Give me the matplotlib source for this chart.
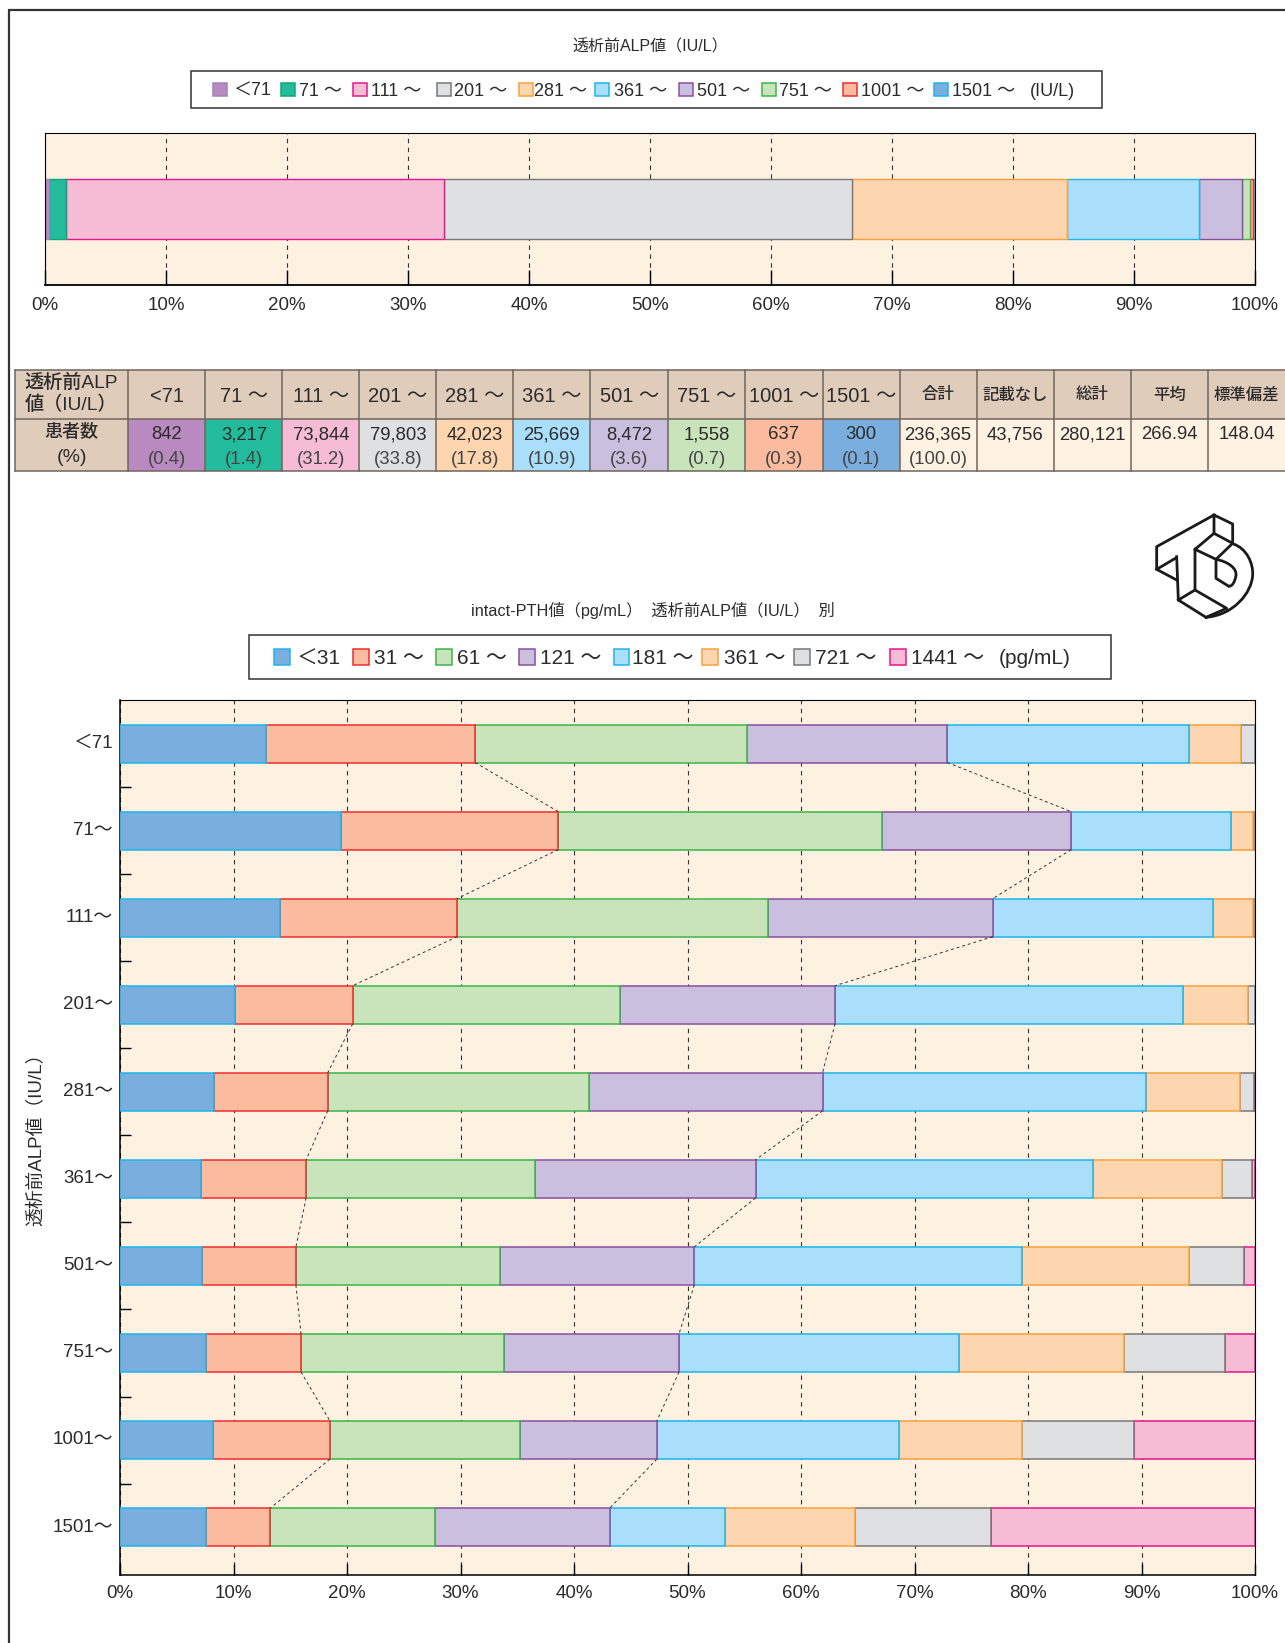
import matplotlib
matplotlib.use('Agg')
import matplotlib.pyplot as plt
from matplotlib.patches import Rectangle, PathPatch
from matplotlib.path import Path
from matplotlib.transforms import ScaledTranslation
import numpy as np

plt.rcParams['font.family'] = ['Liberation Sans', 'Noto Sans CJK JP', 'DejaVu Sans']

W, H = 1285, 1643
txt = '#2b2b2b'
bg = '#fdf1e2'

alp_labels = ['＜71', '71 ～', '111 ～', '201 ～', '281 ～', '361 ～', '501 ～', '751 ～', '1001 ～', '1501 ～']
alp_head = ['<71', '71 ～', '111 ～', '201 ～', '281 ～', '361 ～', '501 ～', '751 ～', '1001 ～', '1501 ～',
            '合計', '記載なし', '総計', '平均', '標準偏差']
alp_n = [842, 3217, 73844, 79803, 42023, 25669, 8472, 1558, 637, 300]
alp_counts = ['842', '3,217', '73,844', '79,803', '42,023', '25,669', '8,472', '1,558', '637', '300',
              '236,365', '43,756', '280,121', '266.94', '148.04']
alp_pct = ['(0.4)', '(1.4)', '(31.2)', '(33.8)', '(17.8)', '(10.9)', '(3.6)', '(0.7)', '(0.3)', '(0.1)',
           '(100.0)', '', '', '', '']
alp_fill = ['#b98abf', '#22bb9b', '#f6bcd6', '#dfe0e2', '#fdd5ae', '#aadffb', '#cbbfe0', '#c9e4bb', '#fabb9e', '#7aaede']
alp_edge = ['#9a86bd', '#0fa878', '#e8168c', '#777777', '#f7a13c', '#1db5ea', '#8a4f9e', '#3cb54a', '#ee2e2e', '#1db5ea']

pth_labels = ['＜31', '31 ～', '61 ～', '121 ～', '181 ～', '361 ～', '721 ～', '1441 ～']
pth_fill = ['#7aaede', '#fabb9e', '#c9e4bb', '#cbbfe0', '#aadffb', '#fdd5ae', '#dfe0e2', '#f6bcd6']
pth_edge = ['#1db5ea', '#ee2e2e', '#3cb54a', '#8a4f9e', '#1db5ea', '#f7a13c', '#777777', '#e8168c']
row_labels = ['＜71', '71～', '111～', '201～', '281～', '361～', '501～', '751～', '1001～', '1501～']
# cumulative boundaries of each row, percent
row_cum = [
    [12.9, 31.3, 55.2, 72.9, 94.2, 98.8, 100.0, 100.0],
    [19.45, 38.6, 67.1, 83.8, 97.9, 99.8, 100.0, 100.0],
    [14.1, 29.7, 57.1, 76.9, 96.3, 99.8, 100.0, 100.0],
    [10.1, 20.5, 44.05, 63.0, 93.7, 99.35, 100.0, 100.0],
    [8.3, 18.3, 41.3, 61.9, 90.4, 98.7, 99.9, 100.0],
    [7.15, 16.4, 36.6, 56.0, 85.7, 97.05, 99.7, 100.0],
    [7.25, 15.5, 33.5, 50.6, 79.45, 94.2, 99.0, 100.0],
    [7.55, 15.95, 33.85, 49.25, 73.9, 88.5, 97.4, 100.0],
    [8.2, 18.5, 35.2, 47.3, 68.6, 79.5, 89.3, 100.0],
    [7.55, 13.25, 27.75, 43.15, 53.3, 64.8, 76.7, 100.0],
]
dash_a = [row[1] for row in row_cum]
dash_b = [row[3] for row in row_cum]
pct_ticks = list(range(0, 101, 10))

fig = plt.figure(figsize=(W / 100, H / 100), dpi=100, facecolor='white')


def px_axes(x0, y0, x1, y1, **kw):
    return fig.add_axes([x0 / W, 1 - y1 / H, (x1 - x0) / W, (y1 - y0) / H], **kw)


# page-level layer in pixel coordinates
page = px_axes(0, 0, W, H)
page.set_xlim(0, W)
page.set_ylim(H, 0)
page.axis('off')
page.plot([8.5, 8.5], [9.5, H], color='#333333', lw=1.6, solid_capstyle='butt')
page.plot([8, W], [9.5, 9.5], color='#333333', lw=1.6, solid_capstyle='butt')


def legend_box(box, swatch_x, text_x, labels, fills, edges, unit, unit_x, fs, sw, sh):
    x0, y0, x1, y1 = box
    page.add_patch(Rectangle((x0, y0), x1 - x0, y1 - y0, fc='white', ec='#333333', lw=1.1))
    cy = (y0 + y1) / 2
    base = cy + fs * 0.5
    for sx, tx, lab, f, e in zip(swatch_x, text_x, labels, fills, edges):
        page.add_patch(Rectangle((sx, cy - sh / 2), sw, sh, fc=f, ec=e, lw=1.1))
        page.text(tx, base, lab, fontsize=fs, ha='left', va='baseline', color=txt)
    page.text(unit_x, base, unit, fontsize=fs, ha='left', va='baseline', color=txt)


# top chart
page.text(650, 47, '透析前ALP値（IU/L）', fontsize=11.5, ha='center', va='center', color=txt)
legend_box((191, 71, 1102, 108),
           [213, 281, 353, 437, 519, 595, 679, 762, 843, 934],
           [233, 299, 371, 454, 534, 614, 697, 779, 861, 952],
           alp_labels, alp_fill, alp_edge, '(IU/L)', 1030, 13, 14, 13)

ax = px_axes(45, 133, 1255, 285)
ax.set_facecolor(bg)
ax.set_xlim(0, 100)
ax.set_ylim(-1.267, 1.267)
ax.set_axisbelow(True)
ax.grid(axis='x', color='#333333', ls=(0, (4, 4)), lw=0.8)
alp_share = 100 * np.array(alp_n) / sum(alp_n)
starts = np.concatenate(([0], np.cumsum(alp_share)[:-1]))
# drawn back to front: each segment's right edge sits over the next one
for v, s0, f, e in list(zip(alp_share, starts, alp_fill, alp_edge))[::-1]:
    ax.barh(0, v, left=s0, height=1, color=f, edgecolor=e, lw=1.0)
ax.set_xticks(pct_ticks)
ax.set_xticklabels([f'{t}%' for t in pct_ticks], fontsize=13.5, color=txt)
ax.set_yticks([])
ax.tick_params(axis='x', direction='in', length=11, width=1, pad=9)
for s in ['top', 'left', 'right']:
    ax.spines[s].set_linewidth(0.8)
ax.spines['bottom'].set_linewidth(1.3)

# table
col_x = [14.5, 128.4, 205.4, 282.4, 359.4, 436.4, 513.4, 590.4, 668, 745.3, 822.6, 899.6, 976.5, 1053.8, 1130.7, 1208, 1285]
head_bg = '#e0ccba'
row_y = [370, 419, 471]
grid_c = '#6f665e'
page.add_patch(Rectangle((col_x[0], row_y[0]), col_x[1] - col_x[0], row_y[2] - row_y[0], fc=head_bg, ec='none'))
for i in range(15):
    x0, x1 = col_x[i + 1], col_x[i + 2]
    cx = (x0 + x1) / 2
    page.add_patch(Rectangle((x0, row_y[0]), x1 - x0, row_y[1] - row_y[0], fc=head_bg, ec='none'))
    f = alp_fill[i] if i < 10 else bg
    page.add_patch(Rectangle((x0, row_y[1]), x1 - x0, row_y[2] - row_y[1], fc=f, ec='none'))
    if i < 10:
        page.text(cx, 402, alp_head[i], fontsize=14.5, ha='center', va='baseline', color=txt)
    else:
        page.text(cx, 395, alp_head[i], fontsize=11.8, ha='center', va='center', color=txt, fontweight='medium')
    page.text(cx, 439, alp_counts[i], fontsize=13.3, ha='center', va='baseline', color=txt)
    page.text(cx, 464.5, alp_pct[i], fontsize=13.3, ha='center', va='baseline', color='#444444')
page.text(71.5, 383, '透析前ALP', fontsize=13.8, ha='center', va='center', color=txt, fontweight='medium')
page.text(71.5, 405, '値（IU/L）', fontsize=13.8, ha='center', va='center', color=txt, fontweight='medium')
page.text(71.5, 432, '患者数', fontsize=13, ha='center', va='center', color=txt, fontweight='medium')
page.text(71.5, 458, '(%)', fontsize=14, ha='center', va='center', color=txt, fontweight='medium')
for x in col_x[:-1]:
    page.plot([x, x], [row_y[0], row_y[2]], color=grid_c, lw=1.1)
for y in row_y:
    page.plot([col_x[0], W], [y, y], color=grid_c, lw=1.1)

# logo outline, points from the 3x crop
logo_lines = [
    [(136, 175), (80, 208), (80, 140), (252, 45), (308, 72), (308, 130), (252, 100), (252, 45)],
    [(80, 208), (140, 240)],
    [(140, 170), (145, 300), (228, 352)],
    [(252, 100), (195, 148), (195, 270), (145, 300)],
    [(195, 270), (290, 325), (228, 352)],
    [(195, 148), (258, 178), (308, 130)],
    [(258, 178), (258, 235), (295, 258)],
]
for pts in logo_lines:
    xs = [1130 + p[0] / 3 for p in pts]
    ys = [500 + p[1] / 3 for p in pts]
    page.plot(xs, ys, color='#1a1a1a', lw=2.0, solid_joinstyle='round')
logo_curves = [
    [(310, 132), (350, 145), (370, 190), (368, 225), (365, 280), (310, 345), (228, 352)],
    [(258, 178), (295, 185), (320, 205), (318, 225), (316, 245), (305, 262), (295, 258)],
]
for pts in logo_curves:
    verts = [(1130 + p[0] / 3, 500 + p[1] / 3) for p in pts]
    page.add_patch(PathPatch(Path(verts, [Path.MOVETO] + [Path.CURVE4] * 6), fc='none', ec='#1a1a1a', lw=2.0))

# bottom chart
page.text(652.5, 610, 'intact-PTH値（pg/mL）  透析前ALP値（IU/L）  別', fontsize=11.7, ha='center', va='center', color=txt)
legend_box((248.5, 635, 1110.5, 679),
           [274, 353, 436, 519, 613.5, 702, 794, 890],
           [297, 374, 457, 540.5, 632, 724, 815, 911],
           pth_labels, pth_fill, pth_edge, '(pg/mL)', 999, 15, 15.5, 16.5)

ax2 = px_axes(120, 700, 1255, 1575)
ax2.set_facecolor(bg)
ax2.set_xlim(0, 100)
ax2.set_ylim(9.55, -0.5)
ax2.set_axisbelow(True)
ax2.grid(axis='x', color='#333333', ls=(0, (4, 4)), lw=0.8)
bar_h = 38 / 87
for r, cum in enumerate(row_cum):
    lefts = [0] + cum[:-1]
    for j in range(len(cum) - 1, -1, -1):
        if cum[j] > lefts[j]:
            ax2.barh(r, cum[j] - lefts[j], left=lefts[j], height=bar_h, color=pth_fill[j],
                     edgecolor=pth_edge[j], lw=1.1, zorder=3)
for line in (dash_a, dash_b):
    for r in range(len(line) - 1):
        ax2.plot([line[r], line[r + 1]], [r + bar_h / 2, r + 1 - bar_h / 2],
                 color='#333333', ls=(0, (3, 3)), lw=0.7, zorder=4)
ax2.set_xticks(pct_ticks)
ax2.set_xticklabels([f'{t}%' for t in pct_ticks], fontsize=13.5, color=txt)
ax2.set_yticks(range(10))
ax2.set_yticklabels(row_labels, fontsize=13.5, color=txt)
ax2.set_yticks(np.arange(0.5, 9, 1), minor=True)
ax2.tick_params(axis='y', which='major', length=0, pad=5)
ax2.tick_params(axis='y', which='minor', direction='in', length=8, width=1)
ax2.tick_params(axis='x', direction='in', length=8, width=1, pad=7)
nudge = ScaledTranslation(0, 1.5 / 72, fig.dpi_scale_trans)
for lab in ax2.get_yticklabels():
    lab.set_transform(lab.get_transform() + nudge)
for s in ['top', 'right']:
    ax2.spines[s].set_linewidth(0.8)
ax2.spines['left'].set_linewidth(1.1)
ax2.spines['bottom'].set_linewidth(1.1)
page.text(36, 1135, '透析前ALP値（IU/L）', fontsize=13.5, rotation=90, ha='center', va='center', color=txt)

fig.savefig('out.png', dpi=100)
